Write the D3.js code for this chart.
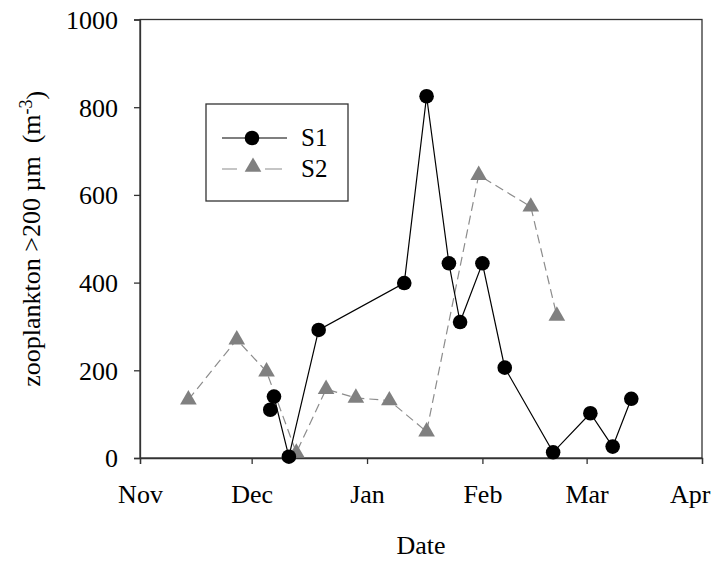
<!DOCTYPE html>
<html>
<head>
<meta charset="utf-8">
<script src="https://cdn.jsdelivr.net/npm/d3@7"></script>
<style>
  body { margin: 0; background: #fff; }
  text { font-family: "Liberation Serif", "Times New Roman", serif; fill: #000; }
</style>
</head>
<body>
<svg id="chart" width="719" height="562"></svg>
<script>
// data
const s1Dates = ["2010-12-06", "2010-12-07", "2010-12-11", "2010-12-19", "2011-01-11", "2011-01-17",
  "2011-01-23", "2011-01-26", "2011-02-01", "2011-02-07", "2011-02-20", "2011-03-02", "2011-03-08", "2011-03-13"];
const s1Values = [110, 140, 3, 292, 399, 825, 444, 310, 444, 206, 13, 102, 26, 135];
const s2Dates = ["2010-11-14", "2010-11-27", "2010-12-05", "2010-12-13", "2010-12-21", "2010-12-29",
  "2011-01-07", "2011-01-17", "2011-01-31", "2011-02-14", "2011-02-21"];
const s2Values = [133, 270, 197, 12, 157, 137, 131, 60, 645, 573, 324];
const monthTicks = ["2010-11-01", "2010-12-01", "2011-01-01", "2011-02-01", "2011-03-01", "2011-04-01"];
const monthLabels = ["Nov", "Dec", "Jan", "Feb", "Mar", "Apr"];
const yTicks = [0, 200, 400, 600, 800, 1000];

const parse = d3.utcParse("%Y-%m-%d");
const s1 = s1Dates.map((d, i) => ({ date: parse(d), value: s1Values[i] }));
const s2 = s2Dates.map((d, i) => ({ date: parse(d), value: s2Values[i] }));

const margin = { left: 140, right: 17, top: 19.5, bottom: 104 };
const width = 719, height = 562;

const svg = d3.select("#chart");

const x = d3.scaleUtc()
  .domain([parse(monthTicks[0]), parse(monthTicks[monthTicks.length - 1])])
  .range([margin.left, width - margin.right]);
const y = d3.scaleLinear()
  .domain([0, 1000])
  .range([height - margin.bottom, margin.top]);

// frame
svg.append("rect")
  .attr("x", x.range()[0]).attr("y", y(1000))
  .attr("width", x.range()[1] - x.range()[0])
  .attr("height", y(0) - y(1000))
  .attr("fill", "none").attr("stroke", "#333").attr("stroke-width", 1.3);

// axes
const xAxis = svg.append("g")
  .attr("transform", `translate(0,${y(0)})`)
  .call(d3.axisBottom(x)
    .tickValues(monthTicks.map(parse))
    .tickFormat((d, i) => monthLabels[i])
    .tickSize(6).tickPadding(21));
const yAxis = svg.append("g")
  .attr("transform", `translate(${x.range()[0]},0)`)
  .call(d3.axisLeft(y).tickValues(yTicks).tickFormat(d3.format("d"))
    .tickSize(6).tickPadding(16));

[xAxis, yAxis].forEach(g => {
  g.select(".domain").attr("stroke", "#333").attr("stroke-width", 1.3);
  g.selectAll(".tick line").attr("stroke", "#333").attr("stroke-width", 1.3);
  g.selectAll(".tick text")
    .style("font-family", '"Liberation Serif", serif')
    .style("font-size", "26px").attr("fill", "#000");
});
yAxis.selectAll(".tick text").attr("dy", "0.34em");
// last month label is pulled inside the page, as in the original
xAxis.selectAll(".tick:last-of-type text").attr("text-anchor", "end").attr("x", 8);

// axis titles
svg.append("text")
  .attr("x", (x.range()[0] + x.range()[1]) / 2).attr("y", 554)
  .attr("text-anchor", "middle").style("font-size", "26px")
  .text("Date");

const yt = svg.append("text")
  .attr("transform", `translate(40,${(y(0) + y(1000)) / 2}) rotate(-90)`)
  .attr("text-anchor", "middle").style("font-size", "26px")
  .attr("xml:space", "preserve");
yt.append("tspan").text("zooplankton >200 µm  (m");
yt.append("tspan").attr("dy", "-0.45em").style("font-size", "18px").text("-3");
yt.append("tspan").attr("dy", "0.45em").text(")");

const line = d3.line().x(d => x(d.date)).y(d => y(d.value));
const tri = d3.symbol().type(d3.symbolTriangle).size(120);

// S2
svg.append("path").datum(s2)
  .attr("d", line).attr("fill", "none")
  .attr("stroke", "#8c8c8c").attr("stroke-width", 1.2)
  .attr("stroke-dasharray", "9,5");
svg.selectAll(".s2").data(s2).join("path")
  .attr("class", "s2")
  .attr("transform", d => `translate(${x(d.date)},${y(d.value)})`)
  .attr("d", tri).attr("fill", "#808080");

// S1
svg.append("path").datum(s1)
  .attr("d", line).attr("fill", "none")
  .attr("stroke", "#000").attr("stroke-width", 1.2);
svg.selectAll(".s1").data(s1).join("circle")
  .attr("class", "s1")
  .attr("cx", d => x(d.date)).attr("cy", d => y(d.value))
  .attr("r", 7.3).attr("fill", "#000");

// legend
const lg = svg.append("g");
lg.append("rect")
  .attr("x", 206).attr("y", 104).attr("width", 142).attr("height", 97)
  .attr("fill", "#fff").attr("stroke", "#333").attr("stroke-width", 1.3);
lg.append("line").attr("x1", 222).attr("x2", 287).attr("y1", 138).attr("y2", 138)
  .attr("stroke", "#000").attr("stroke-width", 1.2);
lg.append("circle").attr("cx", 252).attr("cy", 138).attr("r", 7.3).attr("fill", "#000");
lg.append("line").attr("x1", 222).attr("x2", 282).attr("y1", 169).attr("y2", 169)
  .attr("stroke", "#8c8c8c").attr("stroke-width", 1.2).attr("stroke-dasharray", "15,28,17,100");
lg.append("path").attr("transform", "translate(253,167)").attr("d", tri).attr("fill", "#808080");
lg.append("text").attr("x", 301).attr("y", 146).style("font-size", "25px").text("S1");
lg.append("text").attr("x", 301).attr("y", 177).style("font-size", "25px").text("S2");
</script>
</body>
</html>
